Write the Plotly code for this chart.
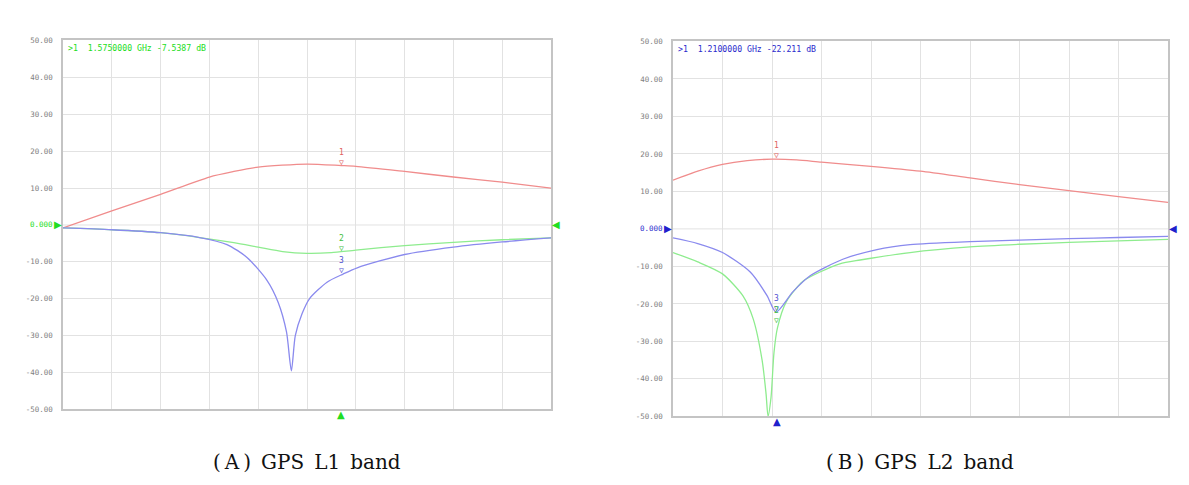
import plotly.graph_objects as go

# ---------------- data (x in screen divisions 0..10, y in dB) ----------------
# Panel A: GPS L1 band
a_red_x = [0, 1, 2, 3, 3.5, 4, 5, 5.7, 6, 7, 8, 9, 10]
a_red_y = [-0.8, 3.8, 8.3, 13.0, 14.5, 15.7, 16.5, 16.1, 15.9, 14.5, 13.0, 11.6, 10.0]

a_green_x = [0, 1, 2, 2.8, 3.5, 4, 4.5, 5, 5.5, 6, 7, 8, 9, 10]
a_green_y = [-0.8, -1.3, -2.1, -3.4, -4.8, -6.0, -7.2, -7.7, -7.5, -6.8, -5.6, -4.7, -4.0, -3.5]

a_blue_x = [0, 1, 2, 2.8, 3.36, 3.77, 4.18, 4.41, 4.58, 4.68, 4.76, 4.9, 5.05, 5.41, 5.74, 6.03, 7, 8, 9, 10]
a_blue_y = [-0.8, -1.3, -2.1, -3.4, -5.3, -8.8, -15.0, -21.0, -29.0, -39.5, -30.0, -24.0, -20.0, -15.5, -13.3, -11.6, -8.0, -6.0, -4.6, -3.5]

# Panel B: GPS L2 band
b_red_x = [0, 0.5, 1, 1.5, 2, 2.5, 3, 4, 5, 6, 7, 8, 9, 10]
b_red_y = [13.0, 15.4, 17.2, 18.2, 18.6, 18.4, 17.8, 16.7, 15.4, 13.6, 11.8, 10.2, 8.6, 7.1]

b_green_x = [0, 0.5, 1, 1.41, 1.62, 1.8, 1.88, 1.92, 1.98, 2.04, 2.11, 2.29, 2.62, 2.97, 3.37, 3.78, 4.79, 6, 7, 8, 9, 10]
b_green_y = [-6.3, -8.8, -12.0, -17.8, -24.0, -35.0, -44.0, -50.0, -45.0, -33.0, -26.4, -19.4, -14.0, -11.5, -9.3, -8.3, -6.3, -4.8, -4.1, -3.6, -3.2, -2.8]

b_blue_x = [0, 0.5, 1, 1.56, 1.9, 2.08, 2.42, 2.77, 3.43, 4.12, 4.79, 6, 7, 8, 9, 10]
b_blue_y = [-2.4, -3.9, -6.3, -11.5, -17.8, -22.2, -16.8, -12.5, -8.1, -5.5, -4.2, -3.4, -3.0, -2.6, -2.3, -2.0]

# marker positions (divisions) and readouts
a_marker_x = 5.7
a_marker_vals = [16.1, -7.2, -13.3]
b_marker_x = 2.1
b_marker_vals = [18.6, -22.2, -24.5]
ref_level = 0
a_readout = ">1  1.5750000 GHz -7.5387 dB"
b_readout = ">1  1.2100000 GHz -22.211 dB"
a_caption = "(\u2009A\u2009)\u2002GPS\u2002L1\u2002band"
b_caption = "(\u2009B\u2009)\u2002GPS\u2002L2\u2002band"

y_tick_vals = [50, 40, 30, 20, 10, -10, -20, -30, -40, -50]
y_tick_text = ["50.00", "40.00", "30.00", "20.00", "10.00",
               "-10.00", "-20.00", "-30.00", "-40.00", "-50.00"]
ref_label = "0.000"

# ---------------- style ----------------
W, H = 1189, 485
OFF = 8  # page body margin


def px(x):
    return (x - OFF) / W


def py(y):
    return 1 - (y - OFF) / H


RED = "#f08c8c"
GREEN = "#8eec8e"
BLUE = "#8a8aee"
GREEN_TXT = "#22dd22"
BLUE_TXT = "#2a2acc"
GRID = "#e2e2e2"
FRAME = "#c4c4c4"
TICK_FONT = dict(family="DejaVu Sans Mono", size=7.5, color="#808080")

fig = go.Figure()


def add_line(x, y, color, xa, ya):
    fig.add_trace(go.Scatter(x=x, y=y, mode="lines", xaxis=xa, yaxis=ya,
                             line=dict(color=color, width=1.3, shape="spline", smoothing=0.7),
                             showlegend=False, hoverinfo="skip"))


add_line(a_red_x, a_red_y, RED, "x", "y")
add_line(a_green_x, a_green_y, GREEN, "x", "y")
add_line(a_blue_x, a_blue_y, BLUE, "x", "y")
add_line(b_red_x, b_red_y, RED, "x2", "y2")
add_line(b_green_x, b_green_y, GREEN, "x2", "y2")
add_line(b_blue_x, b_blue_y, BLUE, "x2", "y2")

axis_common = dict(showgrid=True, gridcolor=GRID, gridwidth=1, zeroline=False,
                   showline=True, linecolor=FRAME, linewidth=1.5, mirror=True,
                   ticks="", fixedrange=True)

fig.update_layout(
    width=W, height=H,
    margin=dict(l=0, r=0, t=0, b=0),
    paper_bgcolor="white", plot_bgcolor="white",
    xaxis=dict(domain=[px(63), px(551)], range=[0, 10], dtick=1,
               showticklabels=False, anchor="y", **axis_common),
    yaxis=dict(domain=[py(413), py(37)], range=[-50, 50],
               tickvals=y_tick_vals, ticktext=y_tick_text, tickfont=TICK_FONT,
               ticklabelstandoff=7, anchor="x", **axis_common),
    xaxis2=dict(domain=[px(673), px(1168)], range=[0, 10], dtick=1,
                showticklabels=False, anchor="y2", **axis_common),
    yaxis2=dict(domain=[py(420), py(38)], range=[-50, 50],
                tickvals=y_tick_vals, ticktext=y_tick_text, tickfont=TICK_FONT,
                ticklabelstandoff=7, anchor="x2", **axis_common),
)

for xa, ya in (("x", "y"), ("x2", "y2")):
    fig.add_shape(type="line", xref=xa, yref=ya, x0=0, x1=10, y0=ref_level, y1=ref_level,
                  line=dict(color=GRID, width=1), layer="below")

ann = []
tri_font = lambda c: dict(family="DejaVu Sans", size=10, color=c)
for xa, ya, c, tc in (("x", "y", "#22dd22", GREEN_TXT), ("x2", "y2", "#2020cc", BLUE_TXT)):
    ann.append(dict(x=0, y=ref_level, xref=xa, yref=ya, text="▶", showarrow=False,
                    xanchor="right", xshift=1, font=tri_font(c)))
    ann.append(dict(x=10, y=ref_level, xref=xa, yref=ya, text="◀", showarrow=False,
                    xanchor="left", xshift=-1, font=tri_font(c)))
    ann.append(dict(x=0, y=ref_level, xref=xa, yref=ya, text=ref_label, showarrow=False,
                    xanchor="right", xshift=-8, font=dict(family="DejaVu Sans Mono", size=7.5, color=tc)))
ann.append(dict(x=a_marker_x, y=-50, xref="x", yref="y", text="▲", showarrow=False,
                yanchor="top", yshift=2, font=tri_font("#22dd22")))
ann.append(dict(x=b_marker_x, y=-50, xref="x2", yref="y2", text="▲", showarrow=False,
                yanchor="top", yshift=2, font=tri_font("#2020cc")))
ann.append(dict(x=0, y=50, xref="x", yref="y", text=a_readout, showarrow=False,
                xanchor="left", yanchor="top", xshift=3, yshift=-1,
                font=dict(family="DejaVu Sans Mono", size=8.2, color=GREEN_TXT)))
ann.append(dict(x=0, y=50, xref="x2", yref="y2", text=b_readout, showarrow=False,
                xanchor="left", yanchor="top", xshift=3, yshift=-1,
                font=dict(family="DejaVu Sans Mono", size=8.2, color=BLUE_TXT)))
mk_font = lambda c: dict(family="DejaVu Sans Mono", size=8, color=c)
for val, lab, col in zip(a_marker_vals, ["1", "2", "3"], ["#e06060", "#40c040", "#5050d0"]):
    ann.append(dict(x=a_marker_x, y=val, xref="x", yref="y", text=lab + "<br>▽",
                    showarrow=False, yanchor="bottom", yshift=-3, font=mk_font(col)))
for val, lab, col, sh in zip(b_marker_vals, ["1", "3", "2"], ["#e06060", "#5050d0", "#40c040"], [-3, -3, -6]):
    ann.append(dict(x=b_marker_x, y=val, xref="x2", yref="y2", text=lab + "<br>▽",
                    showarrow=False, yanchor="bottom", yshift=sh, font=mk_font(col)))
cap_font = dict(family="DejaVu Serif", size=20, color="#111")
ann.append(dict(x=px(307), y=py(467), xref="paper", yref="paper", text=a_caption,
                showarrow=False, xanchor="center", yanchor="middle", font=cap_font))
ann.append(dict(x=px(920), y=py(467), xref="paper", yref="paper", text=b_caption,
                showarrow=False, xanchor="center", yanchor="middle", font=cap_font))
fig.update_layout(annotations=ann)

fig.write_html("out.html")
